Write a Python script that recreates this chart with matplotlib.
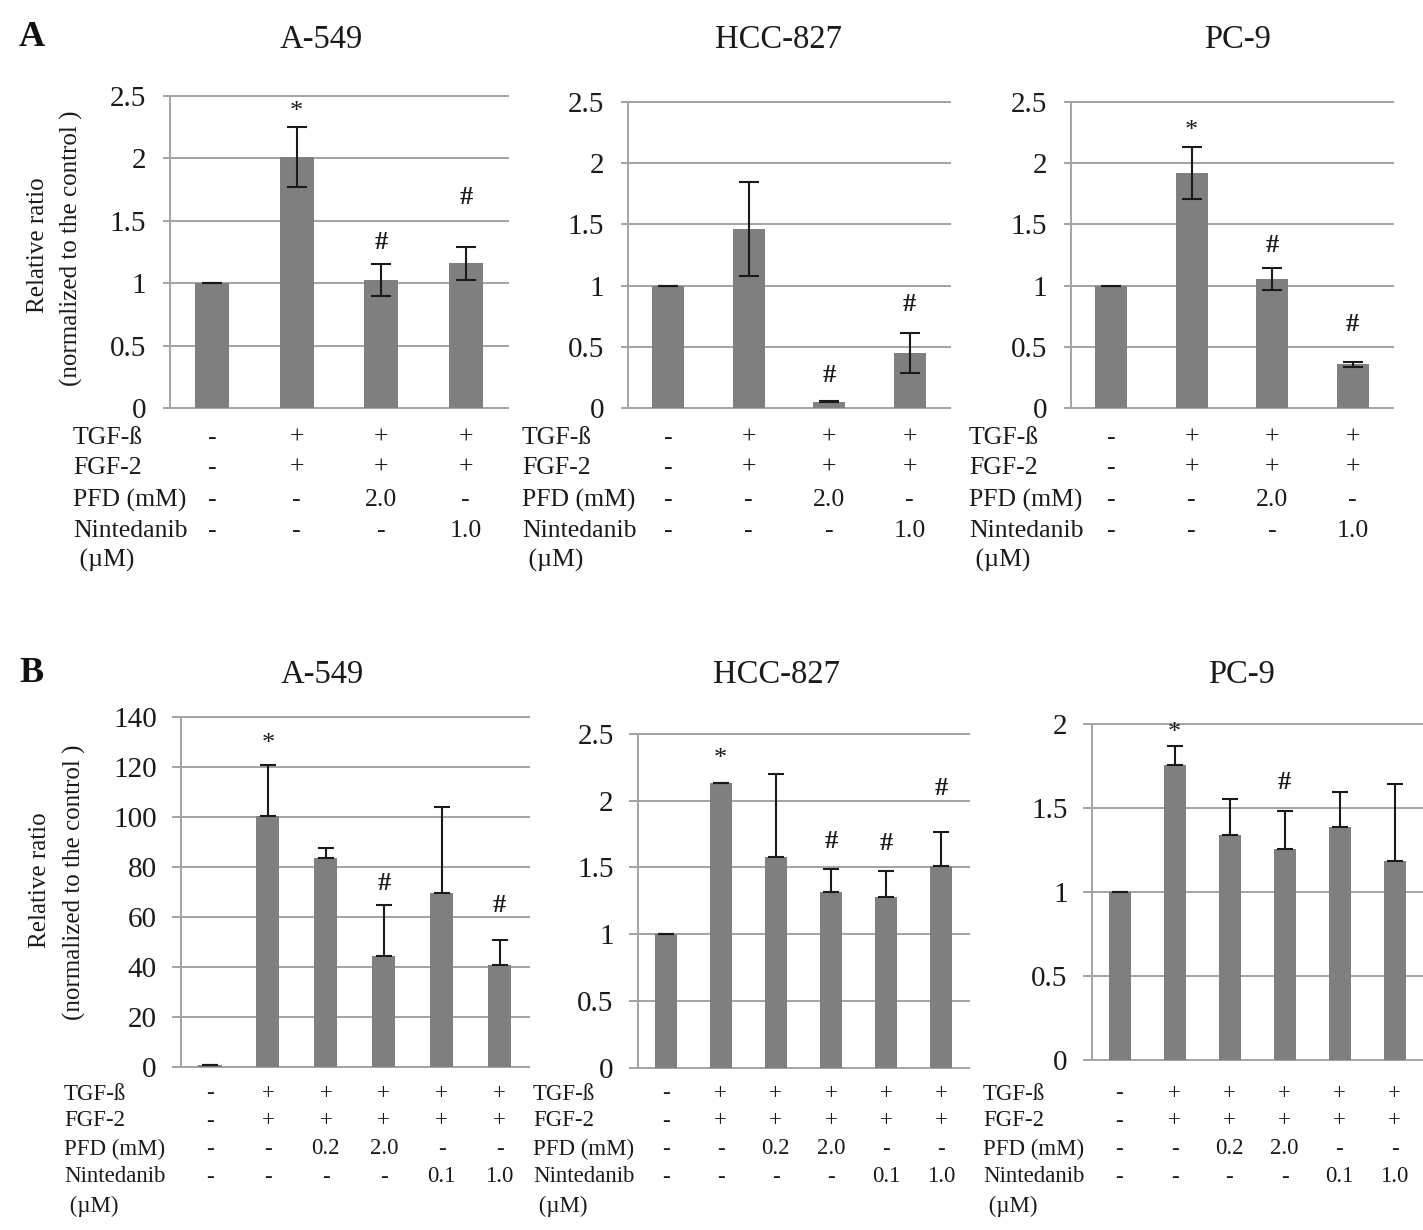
import matplotlib
matplotlib.use("Agg")
import matplotlib.pyplot as plt
import matplotlib.transforms as mtransforms
import numpy as np

plt.rcParams['font.family'] = ['Liberation Serif', 'DejaVu Serif']

# ---------------- data ----------------
row_labels = ["TGF-ß", "FGF-2", "PFD (mM)", "Nintedanib", " (µM)"]

A_tgf = ["-", "+", "+", "+"]
A_fgf = ["-", "+", "+", "+"]
A_pfd = ["-", "-", "2.0", "-"]
A_nin = ["-", "-", "-", "1.0"]

B_tgf = ["-", "+", "+", "+", "+", "+"]
B_fgf = ["-", "+", "+", "+", "+", "+"]
B_pfd = ["-", "-", "0.2", "2.0", "-", "-"]
B_nin = ["-", "-", "-", "-", "0.1", "1.0"]

titles = ["A-549", "HCC-827", "PC-9"]

A_ticks = [0, 0.5, 1, 1.5, 2, 2.5]
A_ticklabels = ["0", "0.5", "1", "1.5", "2", "2.5"]

A_a549_mean = [1.0, 2.01, 1.03, 1.16]
A_a549_err = [0.0, 0.24, 0.127, 0.133]
A_a549_marks = ["", "*", "#", "#"]
A_a549_mark_y = [0, 2.37, 1.33, 1.69]

A_hcc_mean = [1.0, 1.46, 0.055, 0.45]
A_hcc_err = [0.0, 0.385, 0.006, 0.165]
A_hcc_marks = ["", "", "#", "#"]
A_hcc_mark_y = [0, 0, 0.27, 0.85]

A_pc9_mean = [1.0, 1.92, 1.055, 0.36]
A_pc9_err = [0.0, 0.21, 0.092, 0.02]
A_pc9_marks = ["", "*", "#", "#"]
A_pc9_mark_y = [0, 2.26, 1.33, 0.68]

B_a549_ticks = [0, 20, 40, 60, 80, 100, 120, 140]
B_a549_ticklabels = ["0", "20", "40", "60", "80", "100", "120", "140"]
B_a549_mean = [1.0, 100.4, 83.7, 44.3, 69.8, 40.9]
B_a549_err = [0.0, 20.3, 4.0, 20.7, 34.1, 9.8]
B_a549_marks = ["", "*", "", "#", "", "#"]
B_a549_mark_y = [0, 129.4, 0, 73.6, 0, 64.4]

B_hcc_ticks = [0, 0.5, 1, 1.5, 2, 2.5]
B_hcc_ticklabels = ["0", "0.5", "1", "1.5", "2", "2.5"]
B_hcc_mean = [1.0, 2.134, 1.579, 1.313, 1.282, 1.514]
B_hcc_err = [0.0, 0.0, 0.624, 0.176, 0.194, 0.251]
B_hcc_marks = ["", "*", "", "#", "#", "#"]
B_hcc_mark_y = [0, 2.314, 0, 1.695, 1.68, 2.09]

B_pc9_ticks = [0, 0.5, 1, 1.5, 2]
B_pc9_ticklabels = ["0", "0.5", "1", "1.5", "2"]
B_pc9_mean = [1.0, 1.754, 1.341, 1.253, 1.388, 1.181]
B_pc9_err = [0.0, 0.115, 0.211, 0.225, 0.203, 0.463]
B_pc9_marks = ["", "*", "", "#", "", ""]
B_pc9_mark_y = [0, 1.945, 0, 1.648, 0, 0]

# ---------------- style / layout ----------------
W, H = 1423, 1230
BAR = "#7f7f7f"
GRID = "#a3a3a3"
ERR = "#1a1a1a"

fig = plt.figure(figsize=(W / 100, H / 100), dpi=100)


def add_ax(left, top, right, bottom):
    return fig.add_axes([left / W, 1 - bottom / H, (right - left) / W, (bottom - top) / H])


def fy(ypx):
    return 1 - ypx / H


def panel(box, mean, err, marks, mark_y, ticks, ticklabels, conds, label_x, rows_y,
          title, title_xy, two_sided, cap, tick_len, pad, row_fs, mark_fs):
    ax = add_ax(*box)
    n = len(mean)
    x = np.arange(n)
    ax.bar(x, mean, width=0.4, color=BAR, zorder=2)
    if two_sided:
        yerr = err
    else:
        yerr = [np.zeros(n), err]
    ax.errorbar(x, mean, yerr=yerr, fmt="none", ecolor=ERR, elinewidth=1.5,
                capsize=cap, capthick=1.5, zorder=3)
    ax.set_xlim(-0.5, n - 0.5)
    ax.set_ylim(ticks[0], ticks[-1])
    for t in ticks:
        ax.axhline(t, color=GRID, lw=1.4, zorder=1, clip_on=False)
    for s in ["top", "right", "bottom"]:
        ax.spines[s].set_visible(False)
    ax.spines["left"].set_color(GRID)
    ax.spines["left"].set_linewidth(1.4)
    ax.set_xticks([])
    ax.set_yticks(ticks)
    ax.set_yticklabels(ticklabels)
    ax.tick_params(axis="y", length=tick_len, width=1.4, color=GRID, pad=pad,
                   labelsize=21, labelcolor="#1a1a1a")
    for i, (m, my) in enumerate(zip(marks, mark_y)):
        if m:
            ax.text(i, my, m, ha="center", va="center", fontsize=mark_fs,
                    fontweight="bold" if m == "#" else "normal",
                    color="#1a1a1a", clip_on=False)
    trans = mtransforms.blended_transform_factory(ax.transData, fig.transFigure)
    for r, (lab, yy) in enumerate(zip(row_labels, rows_y)):
        fig.text(label_x, fy(yy), lab, ha="left", va="center", fontsize=row_fs,
                 color="#1a1a1a")
        if r < len(conds):
            for i, v in enumerate(conds[r]):
                ax.text(i, fy(yy), v, transform=trans, ha="center", va="center",
                        fontsize=row_fs, color="#1a1a1a", clip_on=False)
    fig.text(title_xy[0] / W, fy(title_xy[1]), title, ha="center", va="center",
             fontsize=23.5, color="#1a1a1a")
    return ax


A_conds = [A_tgf, A_fgf, A_pfd, A_nin]
B_conds = [B_tgf, B_fgf, B_pfd, B_nin]
A_rows = [438, 468, 500, 531, 560]
B_rows = [1094, 1121, 1149, 1177, 1206]

# Row A
panel((170, 96, 508, 408.5), A_a549_mean, A_a549_err, A_a549_marks, A_a549_mark_y,
      A_ticks, A_ticklabels, A_conds, 73 / W, A_rows, titles[0], (321, 40),
      True, 7, 5, 12, 18.5, 19)
panel((628, 101.7, 950, 408.3), A_hcc_mean, A_hcc_err, A_hcc_marks, A_hcc_mark_y,
      A_ticks, A_ticklabels, A_conds, 522 / W, A_rows, titles[1], (778, 40),
      True, 7, 5, 12, 18.5, 19)
panel((1071, 101.7, 1393, 408.3), A_pc9_mean, A_pc9_err, A_pc9_marks, A_pc9_mark_y,
      A_ticks, A_ticklabels, A_conds, 969 / W, A_rows, titles[2], (1238, 40),
      True, 7, 5, 12, 18.5, 19)

# Row B
panel((181, 717, 528.6, 1067), B_a549_mean, B_a549_err, B_a549_marks, B_a549_mark_y,
      B_a549_ticks, B_a549_ticklabels, B_conds, 64 / W, B_rows, titles[0], (322, 675),
      False, 6, 6.5, 11, 16.5, 19)
panel((638, 734, 968.7, 1067.7), B_hcc_mean, B_hcc_err, B_hcc_marks, B_hcc_mark_y,
      B_hcc_ticks, B_hcc_ticklabels, B_conds, 533 / W, B_rows, titles[1], (777, 675),
      False, 6, 6.5, 11, 16.5, 19)
panel((1092, 723.7, 1422, 1060), B_pc9_mean, B_pc9_err, B_pc9_marks, B_pc9_mark_y,
      B_pc9_ticks, B_pc9_ticklabels, B_conds, 983 / W, B_rows, titles[2], (1242, 675),
      False, 6, 6.5, 11, 16.5, 19)

# y labels
fig.text(38 / W, fy(245), "Relative ratio", rotation=90, ha="center", va="center",
         fontsize=18, color="#1a1a1a")
fig.text(71 / W, fy(248), "(normalized to the control )", rotation=90, ha="center",
         va="center", fontsize=18, color="#1a1a1a")
fig.text(40 / W, fy(880), "Relative ratio", rotation=90, ha="center", va="center",
         fontsize=18, color="#1a1a1a")
fig.text(74 / W, fy(882), "(normalized to the control )", rotation=90, ha="center",
         va="center", fontsize=18, color="#1a1a1a")

# panel letters
fig.text(32 / W, fy(38), "A", ha="center", va="center", fontsize=26,
         fontweight="bold", color="#111111")
fig.text(32 / W, fy(674), "B", ha="center", va="center", fontsize=26,
         fontweight="bold", color="#111111")

fig.savefig("out.png", dpi=100, facecolor="white")
